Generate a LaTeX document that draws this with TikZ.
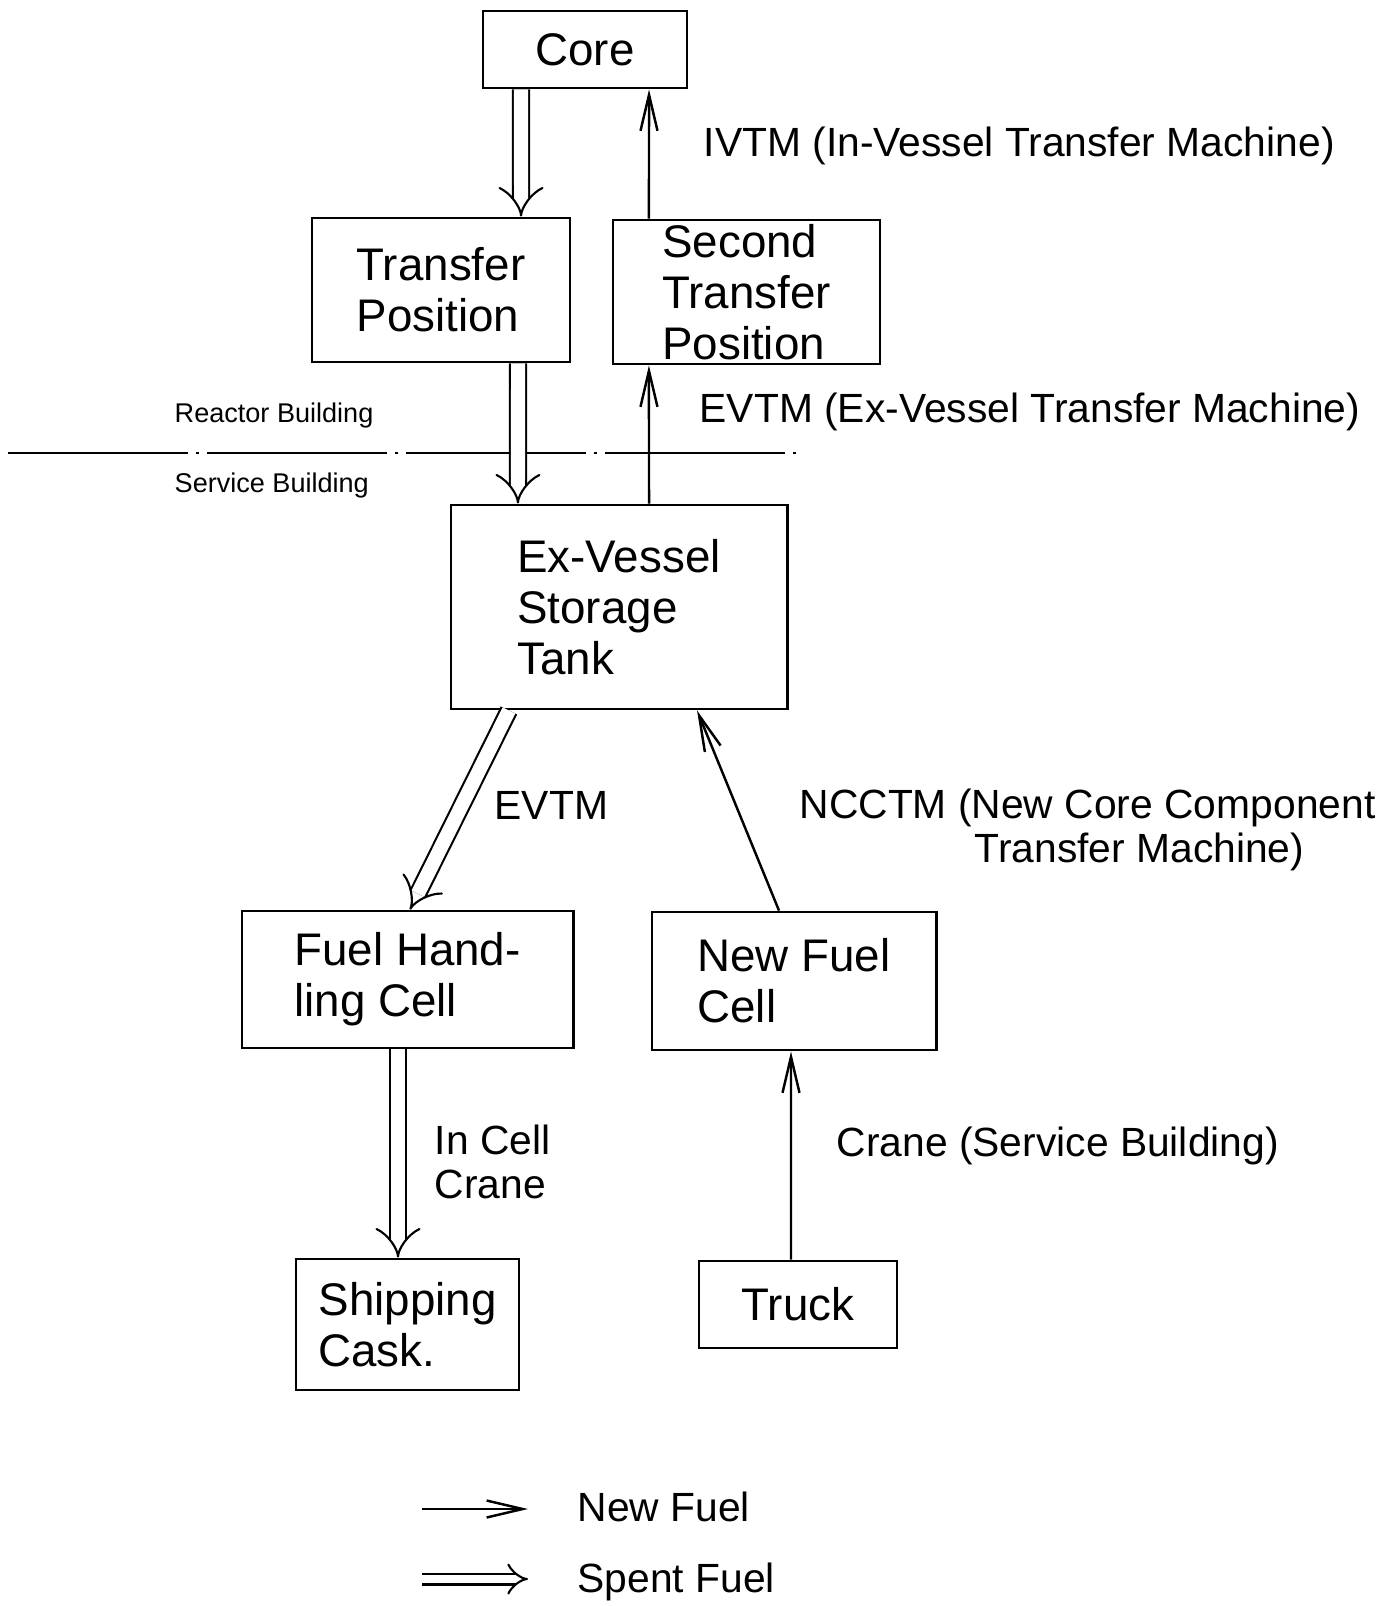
\documentclass[tikz,border=0pt]{standalone}
\usepackage{fontspec}
\setmainfont{Liberation Sans}
\usetikzlibrary{arrows.meta,positioning,calc}
\tikzset{
  unitbox/.style={draw, rectangle, line width=0.8pt, align=left, inner sep=0pt,
    font=\fontsize{13}{14.5}\selectfont},
  newln/.style={-{Straight Barb[length=3.6mm,width=1.7mm]}, line width=0.7pt},
  spentln/.style={double, double distance=4pt, line width=0.6pt, -{Implies}},
  lbl/.style={anchor=west, inner sep=0pt, align=left, font=\fontsize{11.6}{12.5}\selectfont},
  smalllbl/.style={anchor=west, inner sep=0pt, font=\fontsize{7.7}{9}\selectfont},
  bldgln/.style={line width=0.7pt, dash pattern=on 1.8cm off 0.08cm on 0.03cm off 0.08cm},
}

\begin{document}
\begin{tikzpicture}[x=0.01cm, y=-0.01cm]
    \useasboundingbox (0,0) rectangle (1386,1606);
    % Stations
    \node[unitbox, minimum width=2.04cm, minimum height=0.77cm] (core) at (585,49.5) {Core};
    \node[unitbox, minimum width=2.58cm, minimum height=1.44cm] (tpos) at (441,290) {Transfer\\Position};
    \node[unitbox, minimum width=2.67cm, minimum height=1.44cm] (stpos) at (746.5,292) {Second\\Transfer\\Position};
    \node[unitbox, minimum width=3.36cm, minimum height=2.04cm] (evst) at (619,607) {Ex-Vessel\\Storage\\Tank};
    \node[unitbox, minimum width=3.31cm, minimum height=1.37cm] (fhc) at (407.5,979.5) {Fuel Hand-\\ling Cell};
    \node[unitbox, minimum width=2.84cm, minimum height=1.38cm] (nfc) at (794,981) {New Fuel\\Cell};
    \node[unitbox, minimum width=2.23cm, minimum height=1.31cm] (cask) at (407.5,1324.5) {Shipping\\Cask.};
    \node[unitbox, minimum width=1.98cm, minimum height=0.87cm] (truck) at (798,1304.5) {Truck};
    % Building boundary
    \coordinate (bldgW) at (8,453);
    \coordinate (bldgE) at (798,453);
    \draw[bldgln] (bldgW) -- (bldgE);
    \node[smalllbl] (rbldg) at (174,415) {Reactor Building};
    \node[smalllbl] (sbldg) at (174,485) {Service Building};
    % Spent fuel path
    \draw[spentln] ([xshift=-0.64cm]core.south) -- ([xshift=0.80cm]tpos.north);
    \draw[spentln] ([xshift=0.77cm]tpos.south) -- ([xshift=-1.01cm]evst.north);
    \draw[spentln] ([xshift=-1.10cm]evst.south) -- ([xshift=0.025cm]fhc.north);
    \draw[spentln] ([xshift=-0.095cm]fhc.south) -- ([xshift=-0.095cm]cask.north);
    % New fuel path
    \draw[newln] ([xshift=-0.07cm]truck.north) -- ([xshift=-0.03cm]nfc.south);
    \draw[newln] ([xshift=-0.15cm]nfc.north) -- ([xshift=0.78cm]evst.south);
    \draw[newln] ([xshift=0.30cm]evst.north) -- ([xshift=-0.975cm]stpos.south);
    \draw[newln] ([xshift=-0.975cm]stpos.north) -- ([xshift=0.64cm]core.south);
    % Machine labels
    \node[lbl] (ivtm) at (703,146) {IVTM (In-Vessel Transfer Machine)};
    \node[lbl] (evtm) at (699,412) {EVTM (Ex-Vessel Transfer Machine)};
    \node[lbl] (evtmb) at (494,805) {EVTM};
    \node[lbl] (ncctm) at (799,829.5) {NCCTM (New Core Component\\\hspace*{1.75cm}Transfer Machine)};
    \node[lbl] (icc) at (434,1162) {In Cell\\Crane};
    \node[lbl] (crane) at (836,1146) {Crane (Service Building)};
    % Legend
    \coordinate (nfA) at (422,1509);
    \coordinate (nfB) at (528,1509);
    \draw[newln] (nfA) -- (nfB);
    \node[lbl] (nflbl) at (577,1507) {New Fuel};
    \coordinate (sfA) at (422,1579);
    \coordinate (sfB) at (528,1579);
    \draw[spentln, double distance=2.5pt] (sfA) -- (sfB);
    \node[lbl] (sflbl) at (577,1582) {Spent Fuel};
\end{tikzpicture}
\end{document}
